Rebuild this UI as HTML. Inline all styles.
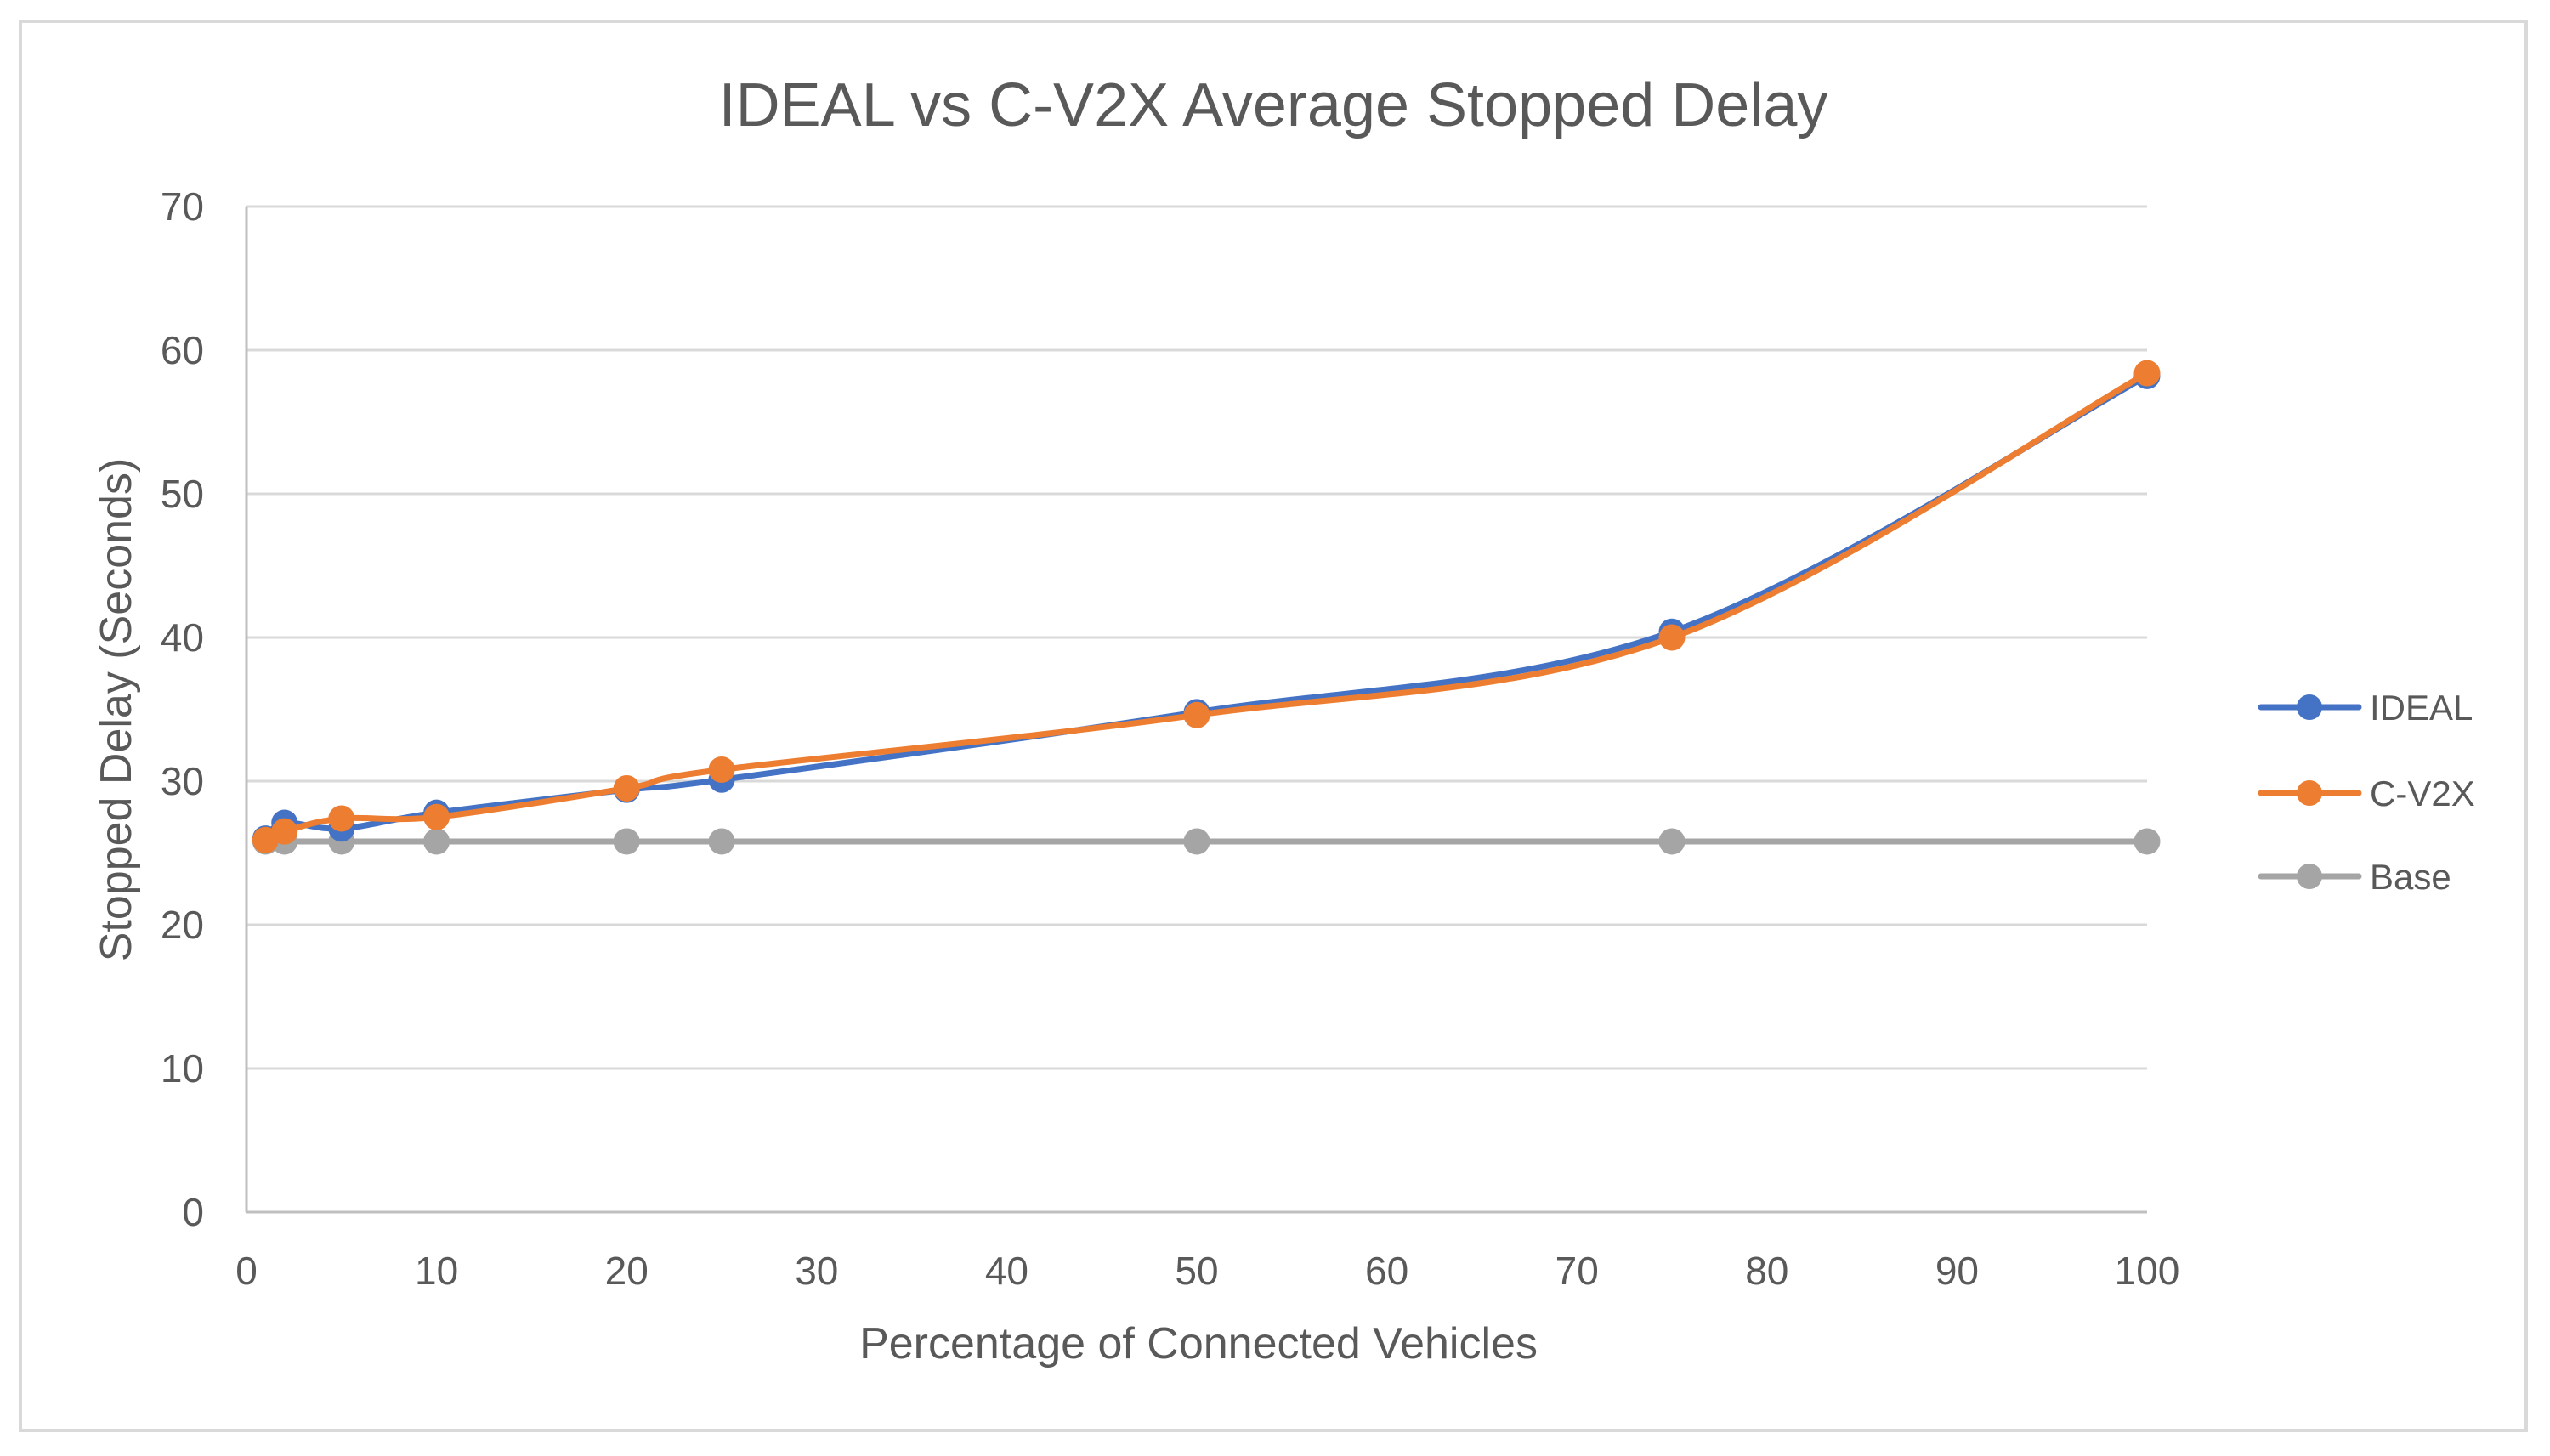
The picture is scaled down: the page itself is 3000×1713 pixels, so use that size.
<!DOCTYPE html>
<html><head><meta charset="utf-8"><style>
html,body{margin:0;padding:0;background:#fff;}
svg{display:block;}
text{font-family:"Liberation Sans",sans-serif;fill:#595959;}
</style></head><body>
<svg id="chart" width="3000" height="1713" viewBox="0 0 3000 1713">
<rect x="24" y="25" width="2948" height="1658" fill="#fff" stroke="#d9d9d9" stroke-width="4"/>
<text x="1498" y="148" font-size="72" text-anchor="middle">IDEAL vs C-V2X Average Stopped Delay</text>
<text x="1410" y="1598" font-size="52" text-anchor="middle">Percentage of Connected Vehicles</text>
<text transform="translate(154,835) rotate(-90)" font-size="52" text-anchor="middle">Stopped Delay (Seconds)</text>
<g id="grid"></g><g id="axes"></g><g id="series"></g><g id="legend"></g>
</svg>
<script>
const xTicks=[0,10,20,30,40,50,60,70,80,90,100];
const yTicks=[0,10,20,30,40,50,60,70];
const xValues=[1,2,5,10,20,25,50,75,100];
const idealValues=[26.0,27.1,26.7,27.8,29.4,30.1,34.8,40.4,58.2];
const cv2xValues=[25.9,26.5,27.4,27.5,29.5,30.8,34.6,40.0,58.4];
const baseValues=[25.8,25.8,25.8,25.8,25.8,25.8,25.8,25.8,25.8];
const seriesNames=["IDEAL","C-V2X","Base"];
const NS="http://www.w3.org/2000/svg";
const L=290,R=2526,B=1426,T=243;
const xs=v=>L+(v-0)/(100-0)*(R-L);
const ys=v=>B-(v-0)/(70-0)*(B-T);
function mk(tag,attrs,parent){const e=document.createElementNS(NS,tag);for(const k in attrs)e.setAttribute(k,attrs[k]);parent.appendChild(e);return e;}
const grid=document.getElementById('grid'),axes=document.getElementById('axes'),ser=document.getElementById('series'),leg=document.getElementById('legend');
yTicks.forEach(t=>{
  if(t>0){const g=mk('line',{x1:L,x2:R,y1:ys(t),y2:ys(t),stroke:'#d9d9d9','stroke-width':3},grid);
  
  }
  const lb=mk('text',{x:240,y:ys(t)+16,'font-size':46,'text-anchor':'end'},axes);lb.textContent=t;
  
  
});
xTicks.forEach(t=>{
  const lb=mk('text',{x:xs(t),y:1511,'font-size':46,'text-anchor':'middle'},axes);lb.textContent=t;
  
  
});
const ax1=mk('line',{x1:L,x2:L,y1:T,y2:B,stroke:'#bfbfbf','stroke-width':3},axes);


const ax2=mk('line',{x1:L,x2:R,y1:B,y2:B,stroke:'#bfbfbf','stroke-width':3},axes);


function smooth(pts){let d='M'+pts[0][0]+','+pts[0][1];
  for(let i=0;i<pts.length-1;i++){const p0=pts[i-1]||pts[i],p1=pts[i],p2=pts[i+1],p3=pts[i+2]||p2;const k=1/6;
    d+=' C'+(p1[0]+(p2[0]-p0[0])*k)+','+(p1[1]+(p2[1]-p0[1])*k)+' '+(p2[0]-(p3[0]-p1[0])*k)+','+(p2[1]-(p3[1]-p1[1])*k)+' '+p2[0]+','+p2[1];}
  return d;}
const allSeries=[[idealValues,'#4472c4'],[cv2xValues,'#ed7d31'],[baseValues,'#a5a5a5']];
[2,0,1].forEach(si=>{
  const [vals,col]=allSeries[si];
  const pts=xValues.map((x,i)=>[xs(x),ys(vals[i])]);
  const p=mk('path',{d:smooth(pts),fill:'none',stroke:col,'stroke-width':7,'stroke-linecap':'round'},ser);
  
  
  pts.forEach(pt=>{const c=mk('circle',{cx:pt[0],cy:pt[1],r:15.5,fill:col},ser);
    
    });
});
const legY=[832,933,1031];
seriesNames.forEach((n,i)=>{
  const col=allSeries[i][1];
  const l=mk('line',{x1:2660,x2:2775,y1:legY[i],y2:legY[i],stroke:col,'stroke-width':7,'stroke-linecap':'round'},leg);
  
  
  const c=mk('circle',{cx:2717,cy:legY[i],r:15,fill:col},leg);
  
  
  const t=mk('text',{x:2788,y:legY[i]+15,'font-size':42},leg);t.textContent=n;
  
  
});
</script>
</body></html>
